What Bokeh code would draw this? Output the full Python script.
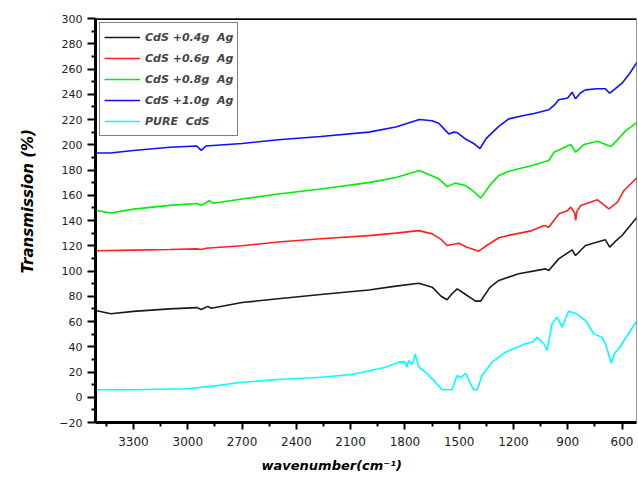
from bokeh.plotting import figure
from bokeh.models import Range1d, FixedTicker, Span, Title
from bokeh.embed import file_html
from bokeh.resources import INLINE

# ---------------- data ----------------
series_names = ["CdS +0.4g  Ag", "CdS +0.6g  Ag", "CdS +0.8g  Ag", "CdS +1.0g  Ag", "PURE  CdS"]
series_colors = ["#1a1a1a", "#ff2020", "#00ee00", "#1010ff", "#00ffff"]

wn_04 = [3510, 3425, 3300, 3100, 2950, 2925, 2890, 2870, 2700, 2500, 2265, 2000, 1850, 1723, 1649,
         1600, 1567, 1540, 1511, 1470, 1410, 1382, 1330, 1281, 1171, 1023, 1005, 950, 876, 857, 802,
         692, 668, 640, 600, 517]
t_04 = [68.7, 66.1, 68, 70, 71, 69.5, 72, 70.5, 75, 78, 81.4, 85, 88, 90.3, 87.2,
        80, 77.2, 82, 85.9, 82, 76.1, 76.1, 87, 92.5, 97.8, 101.7, 100.4, 109.6, 116.8, 112.3, 120.2,
        124.7, 118.9, 123, 128.1, 142.6]

wn_06 = [3510, 3300, 3100, 2950, 2925, 2900, 2700, 2500, 2265, 2000, 1850, 1723, 1649, 1600, 1567,
         1502, 1460, 1392, 1350, 1281, 1200, 1097, 1031, 1005, 948, 900, 883, 862, 856, 850, 828,
         736, 672, 625, 589, 515]
t_06 = [116, 116.5, 117, 117.5, 117, 118, 120, 123, 125.5, 128, 130, 132, 129.4, 125, 120.2,
        122, 119, 115.7, 120, 126.3, 129, 132, 136, 134.7, 145.3, 148, 150.6, 146, 140, 147, 151.9,
        156.4, 149.3, 154.5, 163.8, 174.3]

wn_08 = [3510, 3425, 3300, 3100, 2950, 2925, 2880, 2860, 2700, 2500, 2265, 2000, 1850, 1720, 1613,
         1567, 1521, 1465, 1420, 1380, 1330, 1281, 1226, 1097, 1005, 976, 883, 856, 810, 736, 662,
         625, 580, 515]
t_08 = [148, 146, 149, 152, 153.5, 152, 155.8, 153.7, 157, 161, 165, 170, 174, 179.6, 173,
        167, 169.6, 167.7, 163, 157.7, 168, 175.6, 179, 183.6, 187.5, 194, 200.2, 194.1, 200.2, 202.8, 198.6,
        203.9, 211, 218]

wn_10 = [3510, 3430, 3300, 3100, 2950, 2925, 2900, 2700, 2500, 2265, 2000, 1850, 1720, 1650, 1613,
         1580, 1557, 1530, 1511, 1470, 1420, 1385, 1350, 1300, 1281, 1226, 1150, 1080, 1005, 970, 950,
         900, 876, 857, 830, 802, 740, 692, 668, 640, 600, 560, 517]
t_10 = [193.5, 193.5, 195.5, 198, 199, 195.5, 199, 201, 204, 206.5, 210, 214, 220, 219, 217,
        212, 208.6, 210, 209.7, 205, 201, 197, 205, 212, 214.5, 220.5, 223, 225, 227.7, 232, 235.6,
        237, 241.6, 236.4, 241, 243.5, 244.3, 244.3, 240.8, 244, 248.8, 256, 265.4]

wn_pure = [3510, 3300, 3000, 2850, 2700, 2500, 2265, 2092, 1907, 1834, 1800, 1790, 1779, 1760, 1750,
           1742, 1735, 1723, 1686, 1649, 1594, 1539, 1512, 1490, 1465, 1420, 1400, 1374, 1318, 1244,
           1134, 1090, 1070, 1030, 1014, 987, 959, 931, 895, 857, 802, 756, 711, 692, 659, 640, 618, 517]
t_pure = [5.9, 6, 6.7, 9, 11.9, 14, 15.9, 18, 23.8, 27.8, 28, 24, 29, 26, 30,
          34.4, 30, 23.8, 19.8, 14.6, 5.9, 5.9, 17.2, 15.4, 19, 5.9, 6, 17.2, 27.8, 35.7,
          42.3, 44, 47.6, 42, 37, 58.2, 63.4, 55.5, 68.2, 66.6, 60.8, 50.2, 47.6, 42.3, 27, 35, 38.4, 60.8]

series_x = [wn_04, wn_06, wn_08, wn_10, wn_pure]
series_y = [t_04, t_06, t_08, t_10, t_pure]

x_ticks = [3300, 3000, 2700, 2400, 2100, 1800, 1500, 1200, 900, 600]
x_minor = [3450, 3150, 2850, 2550, 2250, 1950, 1650, 1350, 1050, 750]
y_ticks = list(range(-20, 301, 20))
y_minor = list(range(-10, 300, 20))

x_title = "wavenumber(cm\u207b\u00b9)"
y_title = "Transmission (%)"

FONT = "DejaVu Sans"

# ---------------- figure ----------------
p = figure(width=638, height=486, output_backend="svg", toolbar_location=None,
           x_range=Range1d(3510, 520), y_range=Range1d(-20, 300),
           min_border_left=95, min_border_right=2, min_border_top=18, min_border_bottom=64)
p.background_fill_color = "white"
p.border_fill_color = "white"
p.outline_line_color = "#9a9a9a"
p.outline_line_width = 1
p.xgrid.visible = False
p.ygrid.visible = False

for xs, ys, name, col in zip(series_x, series_y, series_names, series_colors):
    p.line(xs, ys, line_color=col, line_width=1.6, legend_label=name)

# axes
for ax in (p.xaxis[0], p.yaxis[0]):
    ax.axis_line_width = 3
    ax.axis_line_color = "black"
    ax.major_tick_line_width = 2
    ax.minor_tick_line_width = 2
    ax.major_tick_line_color = "black"
    ax.minor_tick_line_color = "black"
    ax.major_tick_in = 0
    ax.minor_tick_in = 0
    ax.major_label_text_font = FONT
    ax.major_label_text_color = "#222222"

p.xaxis.ticker = FixedTicker(ticks=x_ticks, minor_ticks=x_minor)
p.yaxis.ticker = FixedTicker(ticks=y_ticks, minor_ticks=y_minor)
p.xaxis.major_tick_out = 7
p.xaxis.minor_tick_out = 4
p.yaxis.major_tick_out = 8
p.yaxis.minor_tick_out = 4
p.xaxis.major_label_text_font_size = "12px"
p.yaxis.major_label_text_font_size = "11px"
p.xaxis.major_label_standoff = 7
p.yaxis.major_label_standoff = 5

# thick top border
p.add_layout(Span(location=300, dimension="width", line_color="black", line_width=3))

# axis titles (as side-panel titles so they can be shifted like the reference)
p.add_layout(Title(text=x_title, align="left", offset=166, standoff=15,
                   text_font=FONT, text_font_style="bold italic", text_font_size="13px",
                   text_color="black"), "below")
p.add_layout(Title(text=y_title, align="left", offset=149, standoff=36, vertical_align="top",
                   text_font=FONT, text_font_style="bold italic", text_font_size="15px",
                   text_color="black"), "left")

# legend
lg = p.legend[0]
lg.location = "top_left"
lg.margin = 4
lg.padding = 4
lg.spacing = 1
lg.label_height = 20
lg.glyph_height = 20
lg.glyph_width = 36
lg.label_standoff = 5
lg.label_text_font = FONT
lg.label_text_font_style = "bold italic"
lg.label_text_font_size = "11px"
lg.border_line_color = "black"
lg.border_line_width = 1.5
lg.background_fill_color = "white"
lg.background_fill_alpha = 1.0

open("out.html", "w").write(file_html(p, INLINE))
